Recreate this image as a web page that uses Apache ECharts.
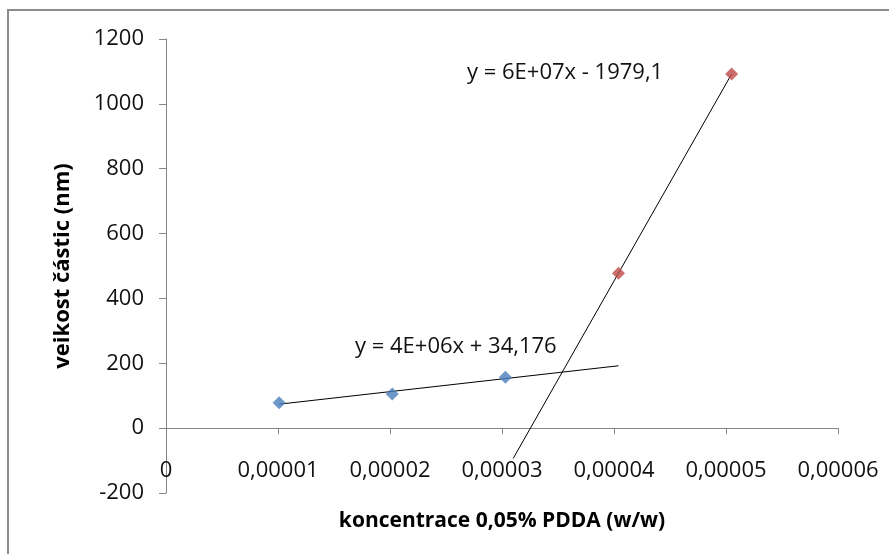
<!DOCTYPE html>
<html>
<head>
<meta charset="utf-8">
<script src="https://cdn.jsdelivr.net/npm/echarts@6/dist/echarts.min.js"></script>
<style>
  html, body { margin: 0; padding: 0; background: #fff; }
  #chart { width: 889px; height: 554px; }
</style>
</head>
<body>
<div id="chart"></div>
<script>
// koncentrace (w/w) a velikost částic (nm)
const nizkeX = [0.0000101, 0.0000202, 0.0000303];
const nizkeY = [78, 105, 157];
const vysokeX = [0.0000404, 0.0000505];
const vysokeY = [478, 1092];
// rozsah trendových čar (včetně prodloužení)
const trendNizkeRange = [0.0000101, 0.0000404];
const trendVysokeRange = [0.000031, 0.0000505];
const rovniceNizke = "y = 4E+06x + 34,176";
const rovniceVysoke = "y = 6E+07x - 1979,1";

const FONT = "'Open Sans', 'Noto Sans', sans-serif";

// linearni regrese (nejmensi ctverce)
function fit(xs, ys) {
  const n = xs.length;
  const mx = xs.reduce((a, b) => a + b, 0) / n;
  const my = ys.reduce((a, b) => a + b, 0) / n;
  let sxy = 0, sxx = 0;
  for (let i = 0; i < n; i++) {
    sxy += (xs[i] - mx) * (ys[i] - my);
    sxx += (xs[i] - mx) * (xs[i] - mx);
  }
  const k = sxy / sxx;
  return { k: k, q: my - k * mx };
}
function trendPoints(xs, ys, range) {
  const f = fit(xs, ys);
  return range.map(x => [x, f.k * x + f.q]);
}
function pairs(xs, ys) {
  return xs.map((x, i) => [x, ys[i]]);
}

const diamond = "path://M0,-1L1,0L0,1L-1,0Z";
const chart = echarts.init(document.getElementById("chart"));

chart.setOption({
  animation: false,
  backgroundColor: "#fff",
  grid: { left: 166, right: 51, top: 39, bottom: 61, containLabel: false, outerBoundsMode: "none" },
  xAxis: {
    type: "value",
    min: 0,
    max: 0.00006,
    interval: 0.00001,
    name: "koncentrace 0,05% PDDA (w/w)",
    nameLocation: "middle",
    nameGap: 18,
    nameTextStyle: { fontFamily: FONT, fontWeight: "bold", fontSize: 21, color: "#000" },
    axisLine: { onZero: true, lineStyle: { color: "#868686", width: 1 } },
    axisTick: { show: true, length: 6, lineStyle: { color: "#868686" } },
    axisLabel: {
      margin: -33,
      fontFamily: FONT,
      fontSize: 22,
      color: "#111",
      formatter: v => v === 0 ? "0" : v.toFixed(5).replace(".", ",")
    },
    splitLine: { show: false }
  },
  yAxis: {
    type: "value",
    min: -200,
    max: 1200,
    interval: 200,
    name: "veikost částic (nm)",
    nameLocation: "middle",
    nameGap: 92,
    nameTextStyle: { fontFamily: FONT, fontWeight: "bold", fontSize: 22, color: "#000" },
    axisLine: { show: true, lineStyle: { color: "#868686", width: 1 } },
    axisTick: { show: true, length: 7, lineStyle: { color: "#868686" } },
    axisLabel: { margin: 22, fontFamily: FONT, fontSize: 22, color: "#111", formatter: v => String(v) },
    splitLine: { show: false }
  },
  graphic: [
    {
      type: "rect",
      shape: { x: 8, y: 10, width: 1000, height: 700 },
      style: { fill: null, stroke: "#8c8c8c", lineWidth: 2 },
      silent: true
    },
    {
      type: "text",
      left: 467, top: 62,
      style: { text: rovniceVysoke, font: "22px " + FONT, fill: "#111" }
    },
    {
      type: "text",
      left: 355, top: 336,
      style: { text: rovniceNizke, font: "22px " + FONT, fill: "#111" }
    }
  ],
  series: [
    {
      type: "line",
      data: trendPoints(nizkeX, nizkeY, trendNizkeRange),
      symbol: "none",
      lineStyle: { color: "#000", width: 1 },
      z: 2
    },
    {
      type: "line",
      data: trendPoints(vysokeX, vysokeY, trendVysokeRange),
      symbol: "none",
      lineStyle: { color: "#000", width: 1 },
      z: 2
    },
    {
      type: "scatter",
      data: pairs(nizkeX, nizkeY),
      symbol: diamond,
      symbolSize: 13,
      itemStyle: { color: "#4A7EBB" },
      z: 3
    },
    {
      type: "scatter",
      data: pairs(vysokeX, vysokeY),
      symbol: diamond,
      symbolSize: 13,
      itemStyle: { color: "#BE4B48" },
      z: 3
    }
  ]
});
</script>
</body>
</html>
